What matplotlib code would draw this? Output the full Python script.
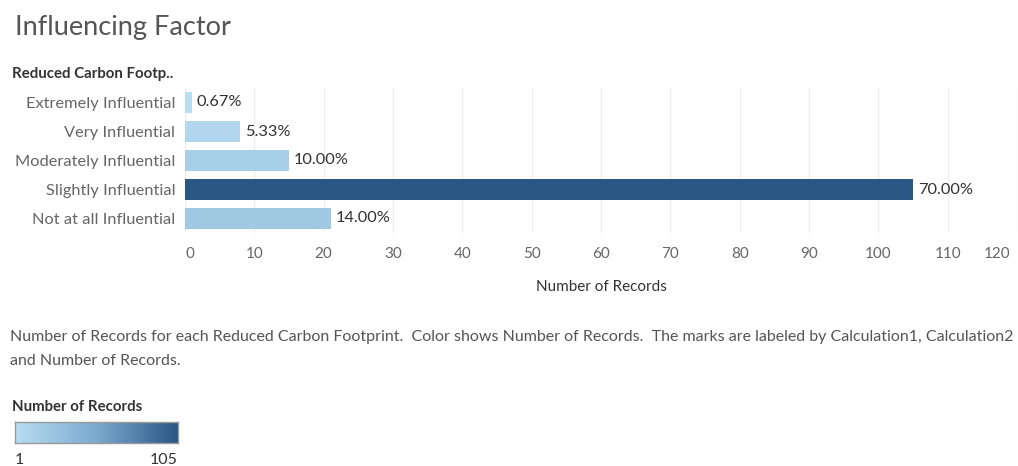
import matplotlib
matplotlib.use("Agg")
import matplotlib.pyplot as plt
import numpy as np
from matplotlib.colors import LinearSegmentedColormap, Normalize
from matplotlib.transforms import ScaledTranslation

plt.rcParams['font.family'] = ['Lato', 'DejaVu Sans']

categories = ["Extremely Influential", "Very Influential", "Moderately Influential",
              "Slightly Influential", "Not at all Influential"]
records = [1, 8, 15, 105, 21]
x_ticks = [0, 10, 20, 30, 40, 50, 60, 70, 80, 90, 100, 110, 120]

total = sum(records)
pct_labels = [f"{v / total * 100:.2f}%" for v in records]

cmap = LinearSegmentedColormap.from_list(
    "tab_blue", ["#b9ddf1", "#7aaad0", "#2a5783"])
norm = Normalize(vmin=min(records), vmax=max(records))

W, H = 1018, 466
fig = plt.figure(figsize=(W / 100, H / 100), dpi=100)

def fx(px):
    return px / W

def fy(py):
    return 1 - py / H

# main bar chart
ax = fig.add_axes([fx(185), fy(233), fx(832), fy(88) - fy(233)])
ypos = np.arange(len(categories))
ax.barh(ypos, records, height=0.7, color=[cmap(norm(v)) for v in records], zorder=2)
ax.set_xlim(0, 120)
ax.set_ylim(len(categories) - 0.5, -0.5)
ax.set_yticks(ypos)
ax.set_yticklabels(categories, fontsize=11.8, color="#666666")
ax.set_xticks(x_ticks)
ax.set_xticklabels([str(t) for t in x_ticks], fontsize=11, color="#666666")
ax.tick_params(axis="both", length=0, pad=7)
ax.tick_params(axis="x", pad=10)
for s in ax.spines.values():
    s.set_visible(False)
ax.grid(axis="x", color="#ececec", linewidth=0.9, zorder=0)
ax.set_xlabel("Number of Records", fontsize=11, color="#333333", labelpad=14)

# keep the outermost tick labels inside the plot area
xt_labels = ax.get_xticklabels()
xt_labels[0].set_transform(xt_labels[0].get_transform() +
                           ScaledTranslation(5 / 100, 0, fig.dpi_scale_trans))
xt_labels[-1].set_transform(xt_labels[-1].get_transform() +
                            ScaledTranslation(-20 / 100, 0, fig.dpi_scale_trans))

for y, v, lab in zip(ypos, records, pct_labels):
    ax.text(v + 0.7, y, lab, va="center", ha="left", fontsize=11.8, color="#333333")

# titles
fig.text(fx(15), fy(27), "Influencing Factor", fontsize=19.5, color="#555555",
         va="center", ha="left")
fig.text(fx(12), fy(74), "Reduced Carbon Footp..", fontsize=10.8, color="#333333",
         fontweight="bold", va="center", ha="left")

fig.text(fx(10), fy(337),
         "Number of Records for each Reduced Carbon Footprint.  Color shows Number of Records.  "
         "The marks are labeled by Calculation1, Calculation2",
         fontsize=11.5, color="#555555", va="center", ha="left")
fig.text(fx(10), fy(361), "and Number of Records.", fontsize=11.5, color="#555555",
         va="center", ha="left")

# color legend
fig.text(fx(12), fy(407), "Number of Records", fontsize=10.8, color="#333333",
         fontweight="bold", va="center", ha="left")
cax = fig.add_axes([fx(15), fy(443), fx(163), fy(422) - fy(443)])
grad = np.linspace(0, 1, 256).reshape(1, -1)
cax.imshow(grad, aspect="auto", cmap=cmap, extent=[0, 1, 0, 1])
cax.set_xticks([])
cax.set_yticks([])
for s in cax.spines.values():
    s.set_color("#999999")
    s.set_linewidth(1)
fig.text(fx(15), fy(460), str(min(records)), fontsize=11.5, color="#333333",
         va="center", ha="left")
fig.text(fx(178), fy(460), str(max(records)), fontsize=11.5, color="#333333",
         va="center", ha="right")

fig.savefig("out.png", dpi=100)
